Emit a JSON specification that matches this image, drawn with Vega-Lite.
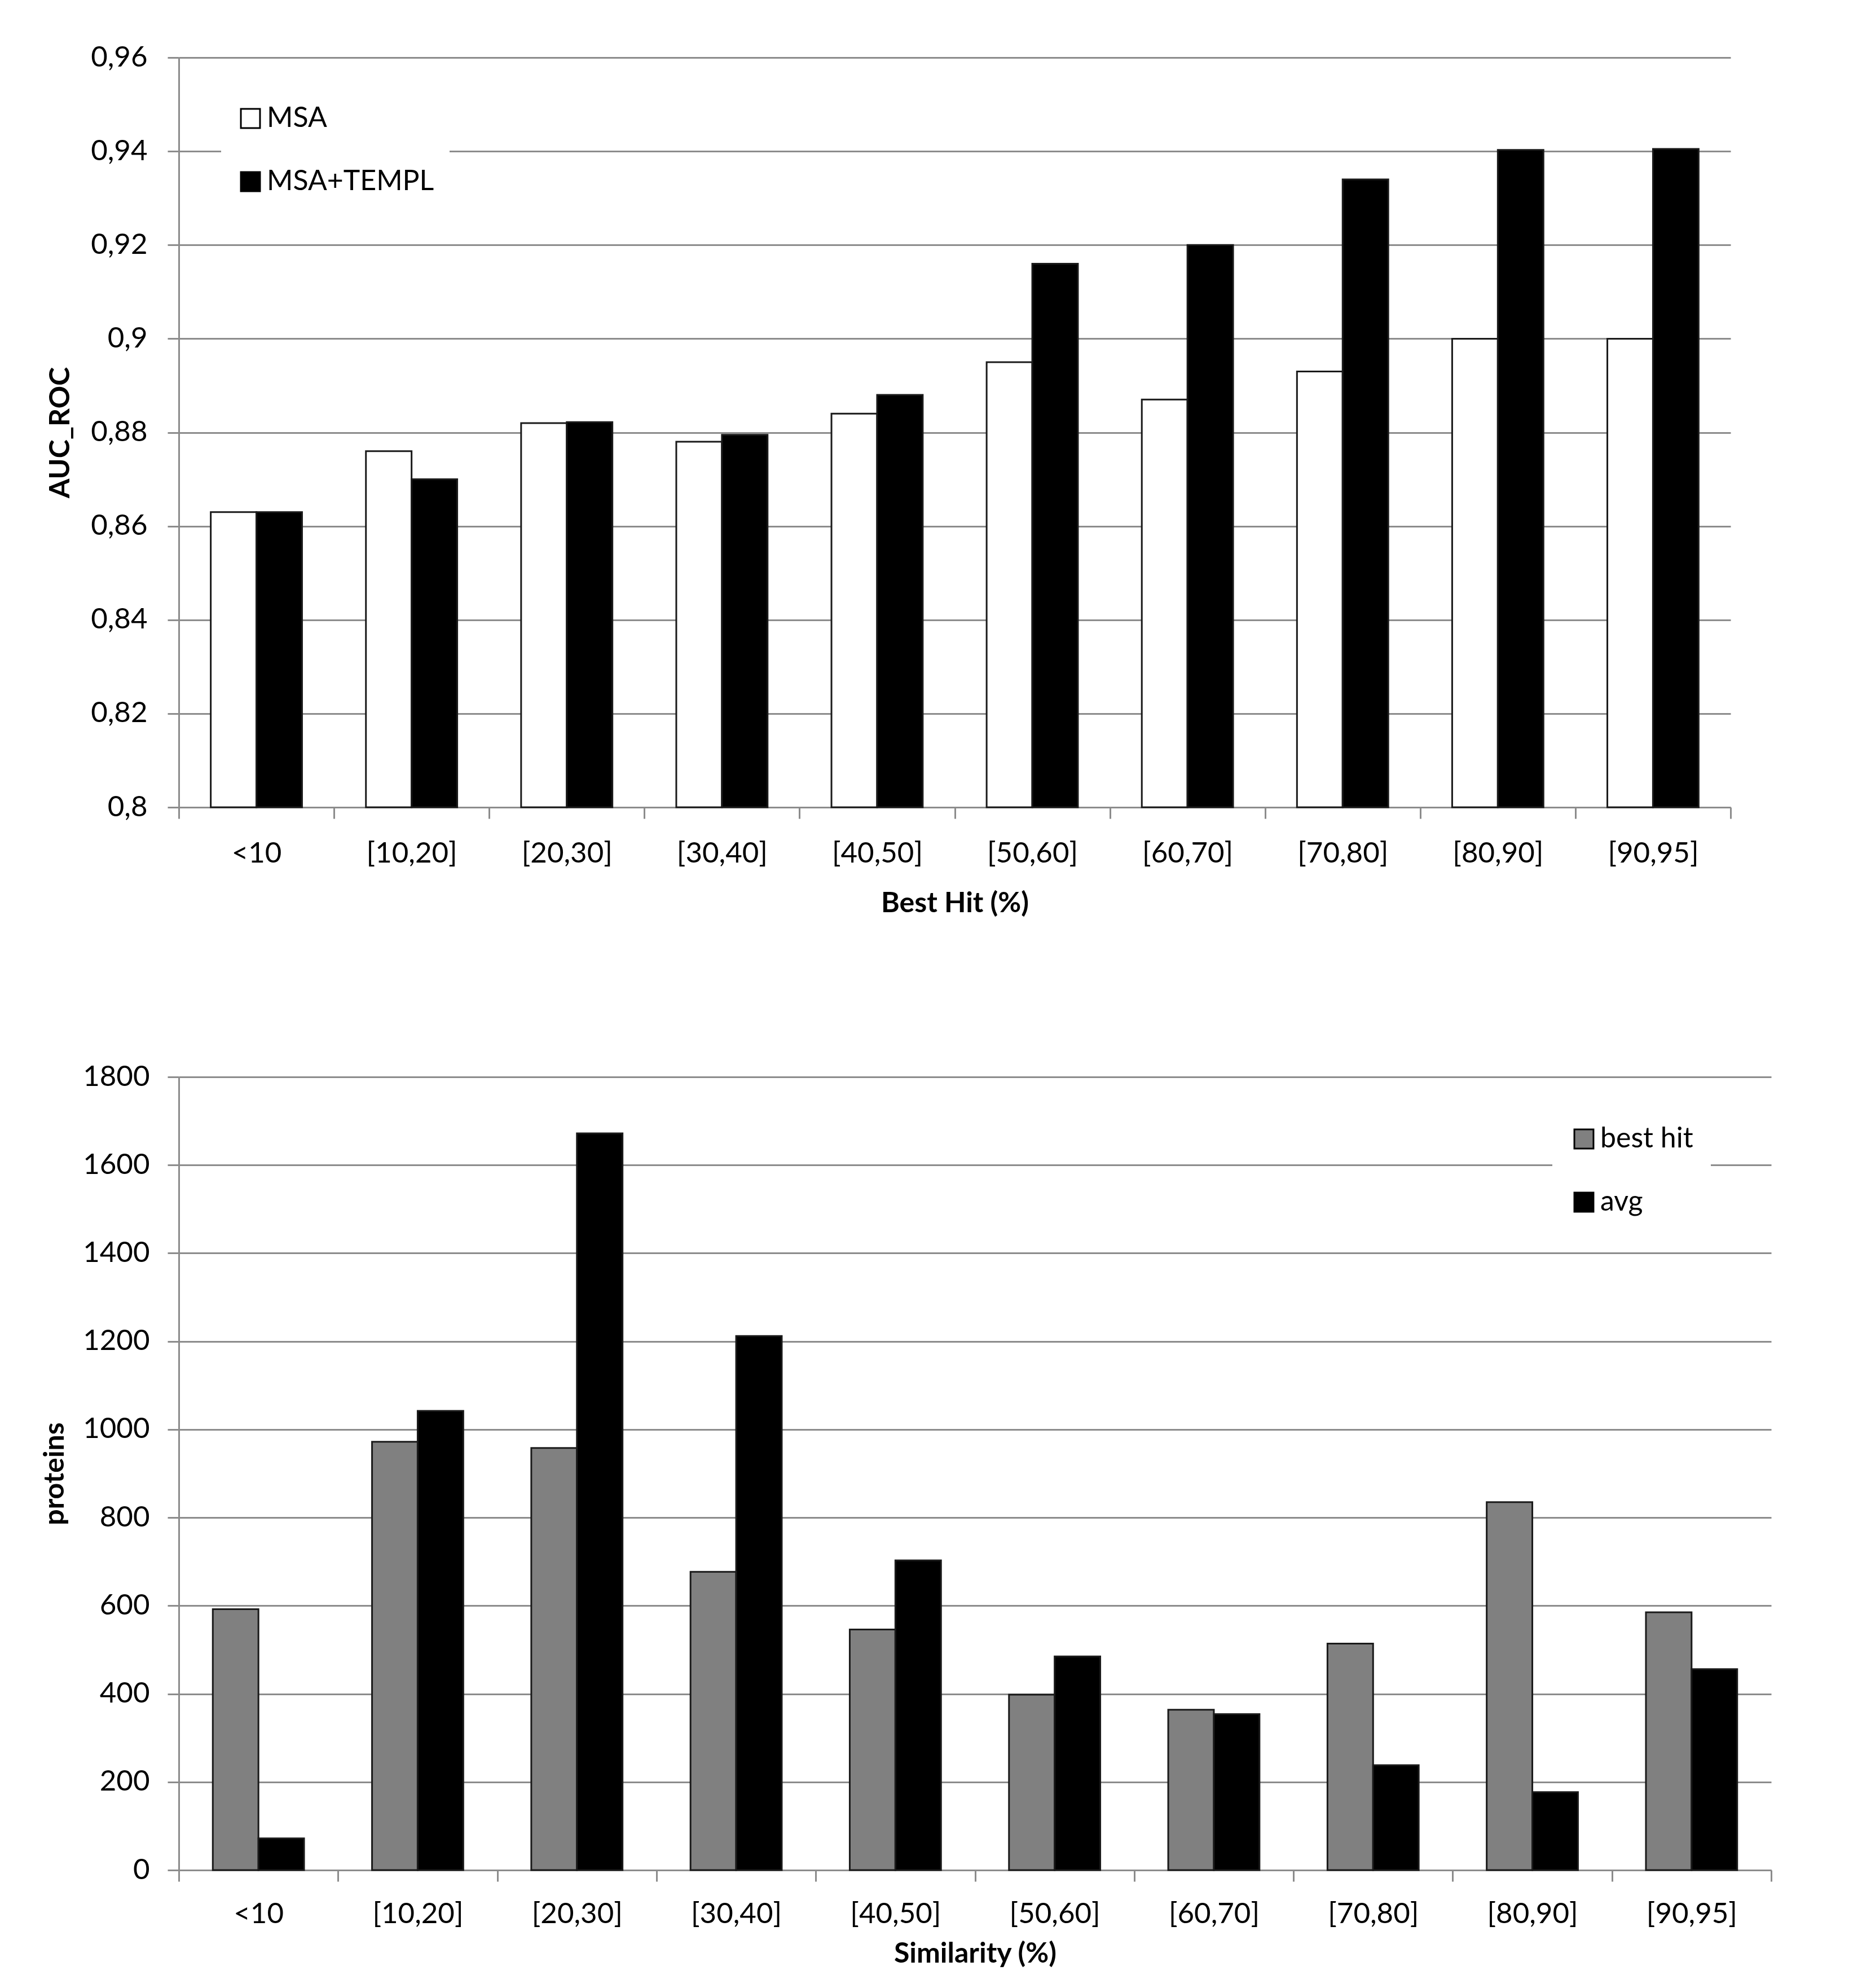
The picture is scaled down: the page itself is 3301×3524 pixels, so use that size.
{
  "$schema": "https://vega.github.io/schema/vega-lite/v6.json",
  "padding": {"left": 72, "top": 76, "right": 10, "bottom": 10},
  "background": "white",
  "datasets": {
    "auc": [
      {"bin": "<10", "method": "MSA", "value": 0.863},
      {"bin": "<10", "method": "MSA+TEMPL", "value": 0.863},
      {"bin": "[10,20]", "method": "MSA", "value": 0.876},
      {"bin": "[10,20]", "method": "MSA+TEMPL", "value": 0.870},
      {"bin": "[20,30]", "method": "MSA", "value": 0.882},
      {"bin": "[20,30]", "method": "MSA+TEMPL", "value": 0.8822},
      {"bin": "[30,40]", "method": "MSA", "value": 0.878},
      {"bin": "[30,40]", "method": "MSA+TEMPL", "value": 0.8795},
      {"bin": "[40,50]", "method": "MSA", "value": 0.884},
      {"bin": "[40,50]", "method": "MSA+TEMPL", "value": 0.888},
      {"bin": "[50,60]", "method": "MSA", "value": 0.895},
      {"bin": "[50,60]", "method": "MSA+TEMPL", "value": 0.916},
      {"bin": "[60,70]", "method": "MSA", "value": 0.887},
      {"bin": "[60,70]", "method": "MSA+TEMPL", "value": 0.920},
      {"bin": "[70,80]", "method": "MSA", "value": 0.893},
      {"bin": "[70,80]", "method": "MSA+TEMPL", "value": 0.934},
      {"bin": "[80,90]", "method": "MSA", "value": 0.900},
      {"bin": "[80,90]", "method": "MSA+TEMPL", "value": 0.9403},
      {"bin": "[90,95]", "method": "MSA", "value": 0.900},
      {"bin": "[90,95]", "method": "MSA+TEMPL", "value": 0.9405}
    ],
    "proteins": [
      {"bin": "<10", "kind": "best hit", "count": 592},
      {"bin": "<10", "kind": "avg", "count": 72},
      {"bin": "[10,20]", "kind": "best hit", "count": 972},
      {"bin": "[10,20]", "kind": "avg", "count": 1042},
      {"bin": "[20,30]", "kind": "best hit", "count": 958},
      {"bin": "[20,30]", "kind": "avg", "count": 1672},
      {"bin": "[30,40]", "kind": "best hit", "count": 677},
      {"bin": "[30,40]", "kind": "avg", "count": 1212},
      {"bin": "[40,50]", "kind": "best hit", "count": 546},
      {"bin": "[40,50]", "kind": "avg", "count": 703},
      {"bin": "[50,60]", "kind": "best hit", "count": 398},
      {"bin": "[50,60]", "kind": "avg", "count": 485},
      {"bin": "[60,70]", "kind": "best hit", "count": 364},
      {"bin": "[60,70]", "kind": "avg", "count": 354},
      {"bin": "[70,80]", "kind": "best hit", "count": 514},
      {"bin": "[70,80]", "kind": "avg", "count": 238},
      {"bin": "[80,90]", "kind": "best hit", "count": 835},
      {"bin": "[80,90]", "kind": "avg", "count": 177},
      {"bin": "[90,95]", "kind": "best hit", "count": 585},
      {"bin": "[90,95]", "kind": "avg", "count": 456}
    ]
  },
  "spacing": 257,
  "resolve": {
    "scale": {"color": "independent", "xOffset": "independent"},
    "legend": {"color": "independent"}
  },
  "vconcat": [
    {
      "width": 2751,
      "height": 1329,
      "data": {"name": "auc"},
      "mark": {"type": "bar", "stroke": "#1a1a1a", "strokeWidth": 3},
      "encoding": {
        "x": {
          "field": "bin",
          "type": "nominal",
          "sort": null,
          "scale": {"paddingInner": 0, "paddingOuter": 0},
          "axis": {"title": "Best Hit (%)", "labelPadding": 37, "titlePadding": 38}
        },
        "xOffset": {
          "field": "method",
          "type": "nominal",
          "scale": {"domain": ["MSA", "MSA+TEMPL"], "paddingInner": 0, "paddingOuter": 0.7}
        },
        "y": {
          "field": "value",
          "type": "quantitative",
          "scale": {"domain": [0.8, 0.96], "zero": false, "nice": false},
          "axis": {
            "title": "AUC_ROC",
            "values": [0.8, 0.82, 0.84, 0.86, 0.88, 0.9, 0.92, 0.94, 0.96],
            "labelExpr": "replace(format(datum.value, '.2~f'), '.', ',')",
            "grid": true,
            "labelPadding": 36,
            "titlePadding": 28
          }
        },
        "y2": {"datum": 0.8},
        "color": {
          "field": "method",
          "type": "nominal",
          "scale": {"domain": ["MSA", "MSA+TEMPL"], "range": ["#ffffff", "#000000"]},
          "legend": {
            "title": null,
            "orient": "none",
            "legendX": 75,
            "legendY": 56,
            "fillColor": "white",
            "padding": 27
          }
        }
      }
    },
    {
      "width": 2823,
      "height": 1406,
      "data": {"name": "proteins"},
      "mark": {"type": "bar", "stroke": "#1a1a1a", "strokeWidth": 3},
      "encoding": {
        "x": {
          "field": "bin",
          "type": "nominal",
          "sort": null,
          "scale": {"paddingInner": 0, "paddingOuter": 0},
          "axis": {"title": "Similarity (%)", "labelPadding": 33, "titlePadding": 20}
        },
        "xOffset": {
          "field": "kind",
          "type": "nominal",
          "scale": {"domain": ["best hit", "avg"], "paddingInner": 0, "paddingOuter": 0.745}
        },
        "y": {
          "field": "count",
          "type": "quantitative",
          "scale": {"domain": [0, 1800], "nice": false},
          "axis": {
            "title": "proteins",
            "values": [0, 200, 400, 600, 800, 1000, 1200, 1400, 1600, 1800],
            "format": "d",
            "grid": true,
            "labelPadding": 32,
            "titlePadding": 24
          }
        },
        "color": {
          "field": "kind",
          "type": "nominal",
          "scale": {"domain": ["best hit", "avg"], "range": ["#808080", "#000000"]},
          "legend": {
            "title": null,
            "orient": "none",
            "legendX": 2435,
            "legendY": 54,
            "fillColor": "white",
            "padding": 31
          }
        }
      }
    }
  ],
  "config": {
    "font": "Lato",
    "view": {"stroke": null},
    "axis": {
      "labelFont": "Lato",
      "labelFontSize": 51,
      "labelColor": "#000000",
      "titleFont": "Lato",
      "titleFontSize": 50,
      "titleFontWeight": "bold",
      "titleColor": "#000000",
      "domainColor": "#8c8c8c",
      "domainWidth": 3,
      "tickColor": "#8c8c8c",
      "tickWidth": 3,
      "tickSize": 20,
      "gridColor": "#8c8c8c",
      "gridWidth": 3
    },
    "axisX": {"labelAngle": 0, "grid": false, "tickBand": "extent"},
    "legend": {
      "labelFont": "Lato",
      "labelFontSize": 50,
      "labelColor": "#000000",
      "labelLimit": 1000,
      "symbolType": "square",
      "symbolSize": 1150,
      "symbolStrokeColor": "#000000",
      "symbolStrokeWidth": 3,
      "symbolOpacity": 1,
      "labelOffset": 4,
      "rowPadding": 62
    }
  }
}
